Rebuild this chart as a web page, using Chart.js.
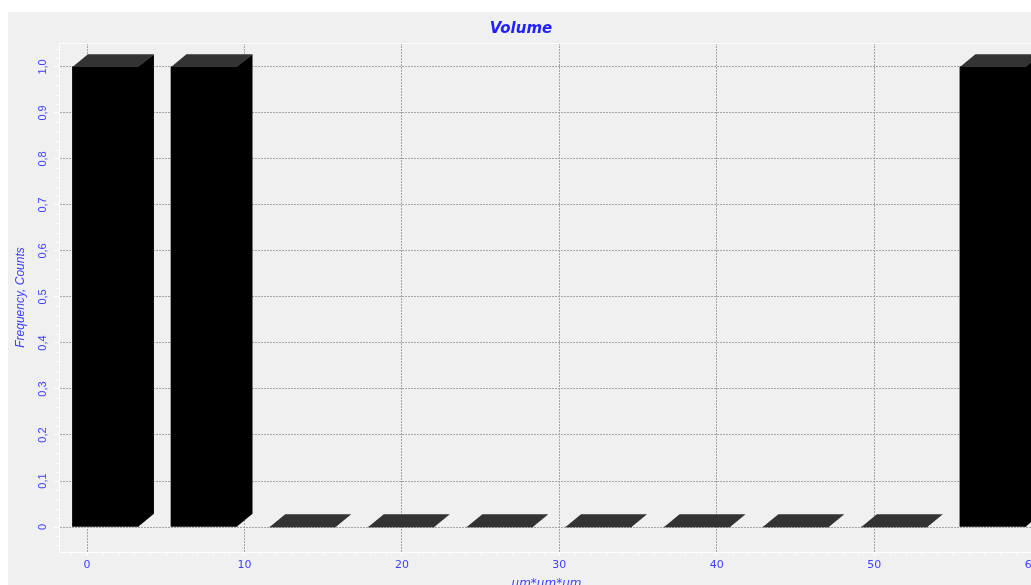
<!DOCTYPE html>
<html><head><meta charset="utf-8">
<script src="https://cdn.jsdelivr.net/npm/chart.js@4.4.1/dist/chart.umd.min.js"></script>
<style>
html,body{margin:0;padding:0;background:#fff;overflow:hidden;width:1031px;height:585px;}
#c{position:absolute;left:8px;top:12px;background:#f0f0f0;}
</style></head><body>
<canvas id="c" width="1044" height="600"></canvas>
<script>
// ---- data ----
const binCenters = [1.17, 7.43, 13.70, 19.96, 26.22, 32.49, 38.75, 45.02, 51.28, 57.54];
const counts     = [1, 1, 0, 0, 0, 0, 0, 0, 0, 1];
const chartTitle = 'Volume';
const xTitle = 'um*um*um';
const yTitle = 'Frequency, Counts';

// ---- style ----
const BLUE = '#4040ff';
const DX = 15.5, DY = 12.7;

const depthPlugin = {
  id: 'depth',
  afterDatasetsDraw(chart) {
    const ctx = chart.ctx;
    const meta = chart.getDatasetMeta(0);
    ctx.save();
    meta.data.forEach(el => {
      const {x, y, base, width} = el.getProps(['x', 'y', 'base', 'width'], true);
      const l = x - width / 2, r = x + width / 2;
      if (base - y > 0.5) {
        ctx.fillStyle = '#000';
        ctx.beginPath();
        ctx.moveTo(r - 1, y); ctx.lineTo(r + DX, y - DY); ctx.lineTo(r + DX, base - DY); ctx.lineTo(r, base); ctx.lineTo(r - 1, base);
        ctx.closePath(); ctx.fill();
      }
      ctx.fillStyle = '#333333';
      ctx.beginPath();
      ctx.moveTo(l, y); ctx.lineTo(l + DX, y - DY); ctx.lineTo(r + DX, y - DY); ctx.lineTo(r, y);
      ctx.closePath(); ctx.fill();
    });
    ctx.restore();
  }
};

const framePlugin = {
  id: 'frame',
  beforeDatasetsDraw(chart) {
    const {ctx, chartArea: a, scales: {x, y}} = chart;
    ctx.save();
    ctx.strokeStyle = '#ffffff';
    ctx.lineWidth = 1;
    ctx.beginPath();
    const ty = Math.round(a.top) + 0.5;
    ctx.moveTo(a.left, ty); ctx.lineTo(a.right, ty);
    const rx = Math.round(a.right) - 0.5;
    ctx.moveTo(rx, a.top); ctx.lineTo(rx, a.bottom);
    for (let v = Math.ceil(x.min); v <= x.max; v++) {
      if (v % 10 === 0) continue;
      const px = Math.round(x.getPixelForValue(v)) + 0.5;
      const len = (v % 5 === 0) ? 4 : 3;
      ctx.moveTo(px, a.bottom); ctx.lineTo(px, a.bottom + len);
    }
    for (let i = Math.ceil(y.min * 50); i <= y.max * 50; i++) {
      if (i % 5 === 0) continue;
      const py = Math.round(y.getPixelForValue(i / 50)) + 0.5;
      ctx.moveTo(a.left - 3, py); ctx.lineTo(a.left, py);
    }
    ctx.stroke();
    ctx.restore();
  }
};

new Chart(document.getElementById('c'), {
  type: 'bar',
  data: {
    datasets: [{
      data: binCenters.map((c, i) => ({x: c, y: counts[i]})),
      backgroundColor: '#000000',
      borderWidth: 0,
      barThickness: 66
    }]
  },
  options: {
    responsive: false,
    animation: false,
    devicePixelRatio: 1,
    layout: {padding: {left: 0, right: 18, top: 0, bottom: 15}},
    plugins: {
      legend: {display: false},
      tooltip: {enabled: false},
      title: {
        display: true,
        text: chartTitle,
        color: '#2020ff',
        font: {family: 'DejaVu Sans', size: 15, weight: 'bold', style: 'italic'},
        padding: {top: 8, bottom: 5}
      }
    },
    scales: {
      x: {
        type: 'linear',
        position: 'bottom',
        offset: false,
        min: -1.78,
        max: 60.15,
        afterFit(s) { s.height = 45; },
        ticks: {
          stepSize: 10,
          includeBounds: false,
          autoSkip: false,
          maxRotation: 0, minRotation: 0,
          color: BLUE,
          padding: 3,
          font: {family: 'DejaVu Sans', size: 11}
        },
        grid: {
          offset: false,
          color: '#a4a4a4',
          tickColor: '#ffffff',
          tickLength: 4,
          tickBorderDash: []
        },
        border: {display: true, color: '#ffffff', width: 1, dash: [2, 1]},
        title: {
          display: true,
          text: xTitle,
          color: BLUE,
          font: {family: 'DejaVu Sans', size: 12, style: 'italic'},
          padding: {top: 0, bottom: 6}
        }
      },
      y: {
        type: 'linear',
        position: 'left',
        min: -0.0543,
        max: 1.052,
        afterFit(s) { s.width = 51; },
        ticks: {
          stepSize: 0.1,
          includeBounds: false,
          autoSkip: false,
          minRotation: 90, maxRotation: 90,
          crossAlign: 'center',
          color: BLUE,
          padding: 3,
          font: {family: 'Liberation Sans', size: 11},
          callback: (v) => (Math.abs(v) < 1e-9 ? '0' : Number(v).toFixed(1).replace('.', ','))
        },
        grid: {
          color: '#a4a4a4',
          tickColor: '#ffffff',
          tickLength: 5,
          tickBorderDash: []
        },
        border: {display: true, color: '#ffffff', width: 1, dash: [2, 1]},
        title: {
          display: true,
          text: yTitle,
          color: BLUE,
          font: {family: 'Liberation Sans', size: 12, style: 'italic'},
          padding: {top: 5, bottom: 0}
        }
      }
    }
  },
  plugins: [framePlugin, depthPlugin]
});
</script>
</body></html>
